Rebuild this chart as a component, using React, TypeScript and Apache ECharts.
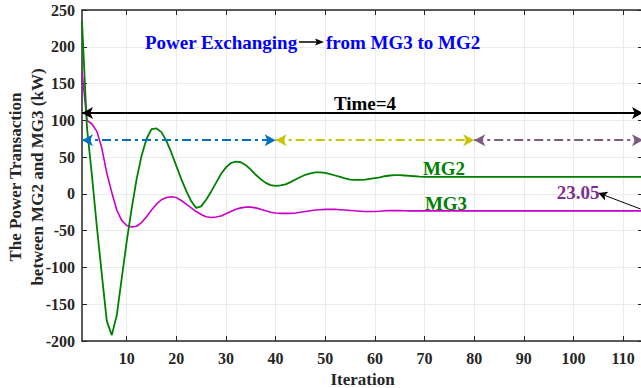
import React, { useEffect, useRef } from "react";
import * as echarts from "echarts";

const iterations = [
  1, 2, 3, 4, 5, 6, 7, 8, 9, 10, 11, 12, 13, 14, 15, 16, 17, 18, 19, 20,
  21, 22, 23, 24, 25, 26, 27, 28, 29, 30, 31, 32, 33, 34, 35, 36, 37, 38, 39, 40,
  41, 42, 43, 44, 45, 46, 47, 48, 49, 50, 51, 52, 53, 54, 55, 56, 57, 58, 59, 60,
  61, 62, 63, 64, 65, 66, 67, 68, 69, 70, 80, 90, 100, 114,
];

const mg2 = [
  235, 90, 25, -45, -110, -173, -192, -165, -115, -65, -20, 20, 52, 75, 88, 89, 84, 72, 56, 38,
  20, 4, -10, -19, -17, -8, 3, 15, 27, 36, 42, 44, 43, 39, 33, 26, 20, 15, 12, 11,
  11.5, 13, 16, 19.5, 23, 26, 28, 29.3, 29.3, 28.5, 27, 25, 23, 21, 19.5, 19, 19, 19.5, 20.5, 21.5,
  22.5, 24, 25, 25.5, 25.5, 25, 24.5, 24, 23.5, 23.2, 23.0, 23.05, 23.05, 23.05,
];

const mg3 = [
  166, 100, 95, 85, 62, 28, 2, -22, -36, -43, -45, -44, -39, -31, -22, -14, -8, -5, -4, -5,
  -9, -14, -19, -24, -28, -31, -32, -31.5, -30, -27, -24, -21, -19, -18, -18, -19, -21, -23, -25, -26,
  -26.5, -26.5, -26.5, -26, -25, -24, -23, -22, -21.5, -21, -21, -21, -21.5, -22, -22.5, -23, -23.5, -24, -24, -24,
  -23.5, -23, -22.8, -22.7, -22.8, -23, -23.1, -23.1, -23.1, -23.05, -23.05, -23.05, -23.05, -23.05,
];

const xTicks = [10, 20, 30, 40, 50, 60, 70, 80, 90, 100, 110];

// annotation arrows in data units
const timeArrow = { from: 1, to: 114, level: 110 };
const phaseArrows = [
  { from: 1, to: 40, level: 73, color: "#0072BD" },
  { from: 40, to: 80, level: 73, color: "#C9C400" },
  { from: 80, to: 114, level: 73, color: "#7E5A80" },
];
const pointer = { from: [113.5, -20.5], to: [105, 1.2] };

const FONT = "'Liberation Serif', 'Times New Roman', serif";
const AXIS = "#262626";

export default function App() {
  const ref = useRef<HTMLDivElement>(null);

  useEffect(() => {
    if (!ref.current) return;
    const chart = echarts.init(ref.current, undefined, { renderer: "svg" });

    const markLines: any[] = [];
    markLines.push([
      { coord: [timeArrow.from, timeArrow.level], lineStyle: { color: "#000", width: 2, type: "solid" }, itemStyle: { color: "#000" } },
      { coord: [timeArrow.to, timeArrow.level] },
    ]);
    phaseArrows.forEach((a) => {
      markLines.push([
        { coord: [a.from, a.level], lineStyle: { color: a.color, width: 2, type: [9, 4, 3, 4] }, itemStyle: { color: a.color } },
        { coord: [a.to, a.level] },
      ]);
    });

    const commonX = {
      type: "value",
      min: 1,
      max: 114,
      axisLine: { show: true, onZero: false, lineStyle: { color: AXIS, width: 1.5 } },
      axisTick: { show: true, inside: true, length: 5, customValues: xTicks, lineStyle: { color: AXIS } },
    };
    const commonY = {
      type: "value",
      min: -200,
      max: 250,
      interval: 50,
      axisLine: { show: true, onZero: false, lineStyle: { color: AXIS, width: 1.5 } },
      axisTick: { show: true, inside: true, length: 5, lineStyle: { color: AXIS } },
    };

    const txt = (text: string, x: number, y: number, fill: string, align = "center") => ({
      type: "text",
      x,
      y,
      z: 100,
      style: { text, font: `bold 19px ${FONT}`, fill, align, verticalAlign: "middle" },
    });

    chart.setOption({
      animation: false,
      backgroundColor: "#fff",
      grid: { left: 82, top: 10, width: 561, height: 331, outerBoundsMode: "none", containLabel: false },
      xAxis: [
        {
          ...commonX,
          position: "bottom",
          name: "Iteration",
          nameLocation: "middle",
          nameGap: 29,
          nameTextStyle: { fontFamily: FONT, fontWeight: "bold", fontSize: 17, color: AXIS },
          axisLabel: {
            customValues: xTicks,
            fontFamily: FONT,
            fontWeight: "bold",
            fontSize: 16,
            color: AXIS,
            margin: 9,
          },
          splitLine: { show: true, lineStyle: { color: "#ebebeb", width: 1 } },
        },
        {
          ...commonX,
          position: "top",
          axisLabel: { show: false },
          splitLine: { show: false },
        },
      ],
      yAxis: [
        {
          ...commonY,
          position: "left",
          axisLabel: { fontFamily: FONT, fontWeight: "bold", fontSize: 16, color: AXIS, margin: 7 },
          splitLine: { show: true, lineStyle: { color: "#ebebeb", width: 1 } },
        },
        {
          ...commonY,
          position: "right",
          axisLabel: { show: false },
          splitLine: { show: false },
        },
      ],
      series: [
        {
          type: "line",
          name: "MG2",
          data: iterations.map((k, i) => [k, mg2[i]]),
          showSymbol: false,
          smooth: false,
          lineStyle: { color: "#008000", width: 1.8 },
          itemStyle: { color: "#008000" },
          z: 3,
          silent: true,
          markLine: {
            silent: true,
            symbol: ["arrow", "arrow"],
            symbolSize: [9, 11],
            label: { show: false },
            emphasis: { disabled: true },
            data: markLines,
          },
        },
        {
          type: "line",
          name: "MG3",
          data: iterations.map((k, i) => [k, mg3[i]]),
          showSymbol: false,
          lineStyle: { color: "#C800C8", width: 1.6 },
          itemStyle: { color: "#C800C8" },
          z: 2,
          silent: true,
          markLine: {
            silent: true,
            symbol: ["none", "arrow"],
            symbolSize: [7, 9],
            label: { show: false },
            emphasis: { disabled: true },
            lineStyle: { color: "#000", width: 1, type: "solid" },
            itemStyle: { color: "#000" },
            data: [[{ coord: pointer.from }, { coord: pointer.to }]],
          },
        },
      ],
      graphic: [
        {
          type: "text",
          rotation: Math.PI / 2,
          x: 26,
          y: 177,
          z: 100,
          style: {
            text: "The Power Transaction\nbetween MG2 and MG3 (kW)",
            font: `bold 17px ${FONT}`,
            fill: AXIS,
            align: "center",
            verticalAlign: "middle",
            lineHeight: 22,
          },
        },
        txt("Power Exchanging", 145, 42, "#0000FF", "left"),
        {
          type: "line",
          z: 100,
          shape: { x1: 299, y1: 42, x2: 318, y2: 42 },
          style: { stroke: "#000", lineWidth: 1.5 },
        },
        {
          type: "polygon",
          z: 100,
          shape: { points: [[315, 38.5], [324, 42], [315, 45.5], [317, 42]] },
          style: { fill: "#000" },
        },
        txt("from MG3 to MG2", 326, 42, "#0000FF", "left"),
        txt("Time=4", 365, 103, "#000"),
        txt("MG2", 444, 168, "#008000"),
        txt("MG3", 446, 203, "#008000"),
        txt("23.05", 578, 192, "#7E2F8E"),
      ],
    });

    return () => chart.dispose();
  }, []);

  return (
    <div
      ref={ref}
      style={{ position: "absolute", left: 0, top: 0, width: 641, height: 388, background: "#fff" }}
    />
  );
}
